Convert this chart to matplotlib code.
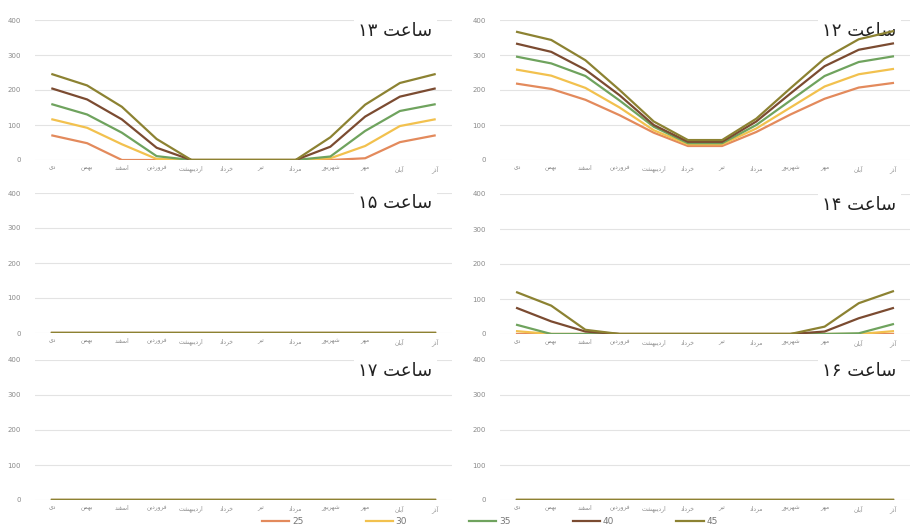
import matplotlib
matplotlib.use("Agg")
import matplotlib.pyplot as plt
from matplotlib.lines import Line2D

# ---------------- data ----------------
months = ["دی", "بهمن", "اسفند", "فروردین", "اردیبهشت", "خرداد",
          "تیر", "مرداد", "شهریور", "مهر", "آبان", "آذر"]
series_names = ["25", "30", "35", "40", "45"]
colors = ["#E38A5C", "#F2C14E", "#6FA35E", "#7B4B31", "#8C8232"]
yticks = [0, 100, 200, 300, 400]

hour12 = {
    "25": [218, 203, 172, 128, 78, 40, 40, 80, 130, 175, 207, 220],
    "30": [258, 241, 206, 150, 85, 45, 45, 90, 150, 210, 245, 260],
    "35": [295, 276, 240, 170, 95, 48, 48, 100, 170, 240, 280, 296],
    "40": [332, 309, 258, 185, 100, 52, 52, 110, 190, 268, 315, 333],
    "45": [366, 343, 285, 200, 110, 57, 57, 118, 205, 290, 345, 368],
}
hour13 = {
    "25": [70, 48, 0, 0, 0, 0, 0, 0, 0, 5, 51, 70],
    "30": [116, 92, 45, 3, 0, 0, 0, 0, 5, 40, 97, 116],
    "35": [159, 130, 78, 11, 0, 0, 0, 0, 10, 83, 140, 159],
    "40": [204, 173, 116, 35, 0, 0, 0, 0, 38, 124, 181, 204],
    "45": [245, 213, 152, 60, 0, 0, 0, 0, 65, 158, 220, 245],
}
hour14 = {
    "25": [0, 0, 0, 0, 0, 0, 0, 0, 0, 0, 0, 0],
    "30": [8, 0, 0, 0, 0, 0, 0, 0, 0, 0, 0, 8],
    "35": [26, 0, 0, 0, 0, 0, 0, 0, 0, 0, 2, 28],
    "40": [74, 36, 7, 0, 0, 0, 0, 0, 0, 7, 45, 74],
    "45": [119, 81, 12, 0, 0, 0, 0, 0, 0, 21, 88, 122],
}
zeros = {k: [0] * 12 for k in series_names}
hour15 = zeros
hour16 = zeros
hour17 = zeros

titles = ["ساعت ۱۲", "ساعت ۱۳", "ساعت ۱۴", "ساعت ۱۵", "ساعت ۱۶", "ساعت ۱۷"]

# ---------------- simple Arabic/Persian shaping ----------------
FORMS = {
    "ا": ("\uFE8D", "\uFE8E", None, None),
    "آ": ("\uFE81", "\uFE82", None, None),
    "ب": ("\uFE8F", "\uFE90", "\uFE91", "\uFE92"),
    "ت": ("\uFE95", "\uFE96", "\uFE97", "\uFE98"),
    "خ": ("\uFEA5", "\uFEA6", "\uFEA7", "\uFEA8"),
    "د": ("\uFEA9", "\uFEAA", None, None),
    "ذ": ("\uFEAB", "\uFEAC", None, None),
    "ر": ("\uFEAD", "\uFEAE", None, None),
    "ز": ("\uFEAF", "\uFEB0", None, None),
    "س": ("\uFEB1", "\uFEB2", "\uFEB3", "\uFEB4"),
    "ش": ("\uFEB5", "\uFEB6", "\uFEB7", "\uFEB8"),
    "ع": ("\uFEC9", "\uFECA", "\uFECB", "\uFECC"),
    "ف": ("\uFED1", "\uFED2", "\uFED3", "\uFED4"),
    "م": ("\uFEE1", "\uFEE2", "\uFEE3", "\uFEE4"),
    "ن": ("\uFEE5", "\uFEE6", "\uFEE7", "\uFEE8"),
    "ه": ("\uFEE9", "\uFEEA", "\uFEEB", "\uFEEC"),
    "و": ("\uFEED", "\uFEEE", None, None),
    "ی": ("\uFBFC", "\uFBFD", "\uFBFE", "\uFBFF"),
}


def shape_word(w):
    if not any(c in FORMS for c in w):
        return w
    out = []
    for i, c in enumerate(w):
        if c not in FORMS:
            out.append(c)
            continue
        prev = w[i - 1] if i > 0 else None
        nxt = w[i + 1] if i + 1 < len(w) else None
        jp = prev is not None and prev in FORMS and FORMS[prev][2] is not None
        jn = FORMS[c][2] is not None and nxt is not None and nxt in FORMS
        iso, fin, ini, med = FORMS[c]
        if jp and jn:
            out.append(med)
        elif jp:
            out.append(fin)
        elif jn:
            out.append(ini)
        else:
            out.append(iso)
    return "".join(reversed(out))


def rtl(text):
    return " ".join(shape_word(t) for t in reversed(text.split(" ")))


# ---------------- figure ----------------
plt.rcParams["font.family"] = ["DejaVu Sans"]
W, H = 911, 531
fig = plt.figure(figsize=(W / 100, H / 100), dpi=100)

# (left, top, right, bottom) in pixels, title x in axes coords
boxes = [
    (500, 20, 910, 160, 0.967),   # 12
    (35, 20, 452, 160, 0.953),    # 13
    (500, 194, 910, 334, 0.967),  # 14
    (35, 193, 452, 333, 0.953),   # 15
    (500, 360, 910, 500, 0.967),  # 16
    (35, 360, 452, 500, 0.953),   # 17
]
datas = [hour12, hour13, hour14, hour15, hour16, hour17]

x = list(range(len(months)))
month_labels = [rtl(m) for m in months]

for (l, t, r, b, tx), data, title in zip(boxes, datas, titles):
    ax = fig.add_axes([l / W, 1 - b / H, (r - l) / W, (b - t) / H])
    for name, col in zip(series_names, colors):
        ax.plot(x, data[name], color=col, lw=1.6, solid_joinstyle="round", zorder=3)
    ax.set_xlim(-0.5, len(months) - 0.5)
    ax.set_ylim(0, 400)
    ax.set_yticks(yticks)
    ax.set_yticklabels([str(v) for v in yticks], fontsize=5, color="#8a8a8a")
    ax.set_xticks(x)
    ax.set_xticklabels(month_labels, fontsize=4.3, color="#8a8a8a")
    ax.tick_params(length=0, pad=4)
    ax.tick_params(axis="y", pad=10)
    ax.grid(axis="y", color="#e3e3e3", lw=0.8, zorder=0)
    ax.set_axisbelow(True)
    for s in ax.spines.values():
        s.set_visible(False)
    ax.text(tx, 0.925, rtl(title), transform=ax.transAxes, ha="right", va="center",
            fontsize=13, color="#222222", zorder=2,
            bbox=dict(facecolor="white", edgecolor="none", pad=3))

handles = [Line2D([], [], color=c, lw=1.6) for c in colors]
fig.legend(handles, series_names, loc="center", bbox_to_anchor=(490 / W, 1 - 522 / H),
           ncol=5, frameon=False, fontsize=6.5, handlelength=3.0,
           handletextpad=0.3, columnspacing=6.9, labelcolor="#777777")

fig.savefig("out.png", dpi=100, facecolor="white")
